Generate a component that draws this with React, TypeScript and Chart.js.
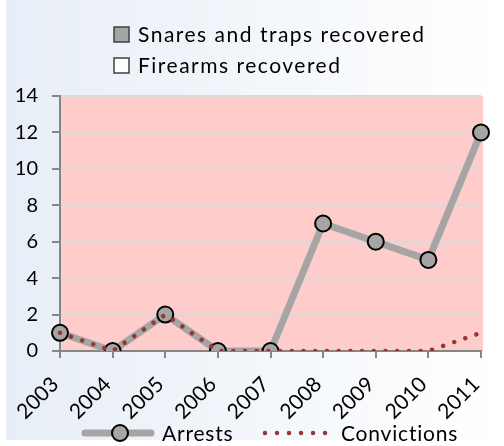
import React, { useEffect, useRef } from 'react';
import { Chart, registerables } from 'chart.js';

Chart.register(...registerables);

const years = ['2003', '2004', '2005', '2006', '2007', '2008', '2009', '2010', '2011'];
const arrests = [1, 0, 2, 0, 0, 7, 6, 5, 12];
const convictions = [1, 0, 2, 0, 0, 0, 0, 0, 1];
const snaresRecovered: (number | null)[] = [null, null, null, null, null, null, null, null, null];
const firearmsRecovered: (number | null)[] = [null, null, null, null, null, null, null, null, null];
const yTicks = [0, 2, 4, 6, 8, 10, 12, 14];

const FONT = 'Lato';

const decorPlugin = {
  id: 'decor',
  beforeDraw(chart: any) {
    const { ctx, width, height, chartArea } = chart;
    ctx.save();
    ctx.fillStyle = '#ffffff';
    ctx.fillRect(0, 0, width, height);
    const g = ctx.createLinearGradient(6, 0, width, 0);
    g.addColorStop(0, '#E8EEF7');
    g.addColorStop(0.55, '#F4F7FB');
    g.addColorStop(1, '#FFFFFF');
    ctx.fillStyle = g;
    ctx.fillRect(6, 0, width - 6, 440);
    ctx.fillStyle = '#FFCCCC';
    ctx.fillRect(chartArea.left, chartArea.top, chartArea.right - chartArea.left + 2, chartArea.bottom - chartArea.top);
    ctx.restore();
  },
  afterDraw(chart: any) {
    const { ctx } = chart;
    const ds = chart.data.datasets;
    ctx.save();
    ctx.font = `21px ${FONT}`;
    ctx.textBaseline = 'alphabetic';
    ctx.textAlign = 'left';
    (ctx as any).letterSpacing = '1.5px';
    const bars = ds.filter((d: any) => d.type === 'bar');
    bars.forEach((d: any, i: number) => {
      const y = 27 + i * 31;
      ctx.fillStyle = d.backgroundColor;
      ctx.fillRect(114, y, 15, 15);
      ctx.strokeStyle = '#404040';
      ctx.lineWidth = 1.5;
      ctx.strokeRect(114, y, 15, 15);
      ctx.fillStyle = '#000';
      ctx.fillText(d.label, 138, y + 15);
    });
    (ctx as any).letterSpacing = '0.8px';
    const ly = 433;
    const arr = ds.find((d: any) => d.label === 'Arrests');
    const con = ds.find((d: any) => d.label === 'Convictions');
    ctx.strokeStyle = arr.borderColor;
    ctx.lineWidth = 7;
    ctx.lineCap = 'round';
    ctx.beginPath();
    ctx.moveTo(85, ly);
    ctx.lineTo(151, ly);
    ctx.stroke();
    ctx.beginPath();
    ctx.arc(120, ly, 8, 0, Math.PI * 2);
    ctx.fillStyle = arr.pointBackgroundColor;
    ctx.fill();
    ctx.lineWidth = 2;
    ctx.strokeStyle = '#000';
    ctx.stroke();
    ctx.fillStyle = '#000';
    ctx.fillText(arr.label, 162, 441);
    ctx.strokeStyle = con.borderColor;
    ctx.lineWidth = 4.5;
    ctx.lineCap = 'round';
    ctx.setLineDash([0.01, 12]);
    ctx.beginPath();
    ctx.moveTo(265, ly);
    ctx.lineTo(326, ly);
    ctx.stroke();
    ctx.setLineDash([]);
    ctx.fillStyle = '#000';
    ctx.fillText(con.label, 341, 441);
    ctx.restore();
  },
};

export default function App() {
  const ref = useRef<HTMLCanvasElement>(null);
  useEffect(() => {
    if (!ref.current) return;
    const chart = new Chart(ref.current, {
      type: 'line',
      data: {
        labels: years,
        datasets: [
          {
            type: 'bar',
            label: 'Snares and traps recovered',
            data: snaresRecovered,
            backgroundColor: '#A5A5A5',
          } as any,
          {
            type: 'bar',
            label: 'Firearms recovered',
            data: firearmsRecovered,
            backgroundColor: '#FFFFFF',
          } as any,
          {
            type: 'line',
            label: 'Convictions',
            data: convictions,
            borderColor: '#953735',
            borderWidth: 4.5,
            borderDash: [0.01, 11.7],
            borderCapStyle: 'round',
            pointRadius: 0,
            tension: 0,
            order: 1,
          },
          {
            type: 'line',
            label: 'Arrests',
            data: arrests,
            borderColor: '#A5A5A5',
            borderWidth: 7,
            borderCapStyle: 'round',
            borderJoinStyle: 'round',
            pointRadius: 8,
            pointBackgroundColor: '#A5A5A5',
            pointBorderColor: '#000000',
            pointBorderWidth: 2,
            tension: 0,
            order: 2,
          },
        ],
      },
      options: {
        responsive: false,
        animation: false,
        layout: { padding: { left: 0, right: 23, top: 96, bottom: 0 } },
        plugins: { legend: { display: false }, tooltip: { enabled: false } },
        scales: {
          x: {
            type: 'category',
            offset: false,
            grid: { offset: false, drawOnChartArea: false, color: '#868686', tickLength: 7, lineWidth: 2 },
            border: { color: '#868686', width: 2 },
            ticks: {
              color: '#000',
              font: { family: FONT, size: 21 },
              minRotation: 45,
              maxRotation: 45,
              autoSkip: false,
              padding: 14,
              labelOffset: -5,
            },
            afterFit(s: any) {
              s.height = 95;
              s.paddingLeft = 0;
              s.paddingRight = 0;
            },
          },
          y: {
            min: 0,
            max: 14,
            afterBuildTicks(s: any) {
              s.ticks = yTicks.map((v) => ({ value: v }));
            },
            ticks: { color: '#000', font: { family: FONT, size: 20 }, padding: 14 },
            grid: { color: '#D9D9D9', tickColor: '#868686', tickLength: 8, lineWidth: 2 },
            border: { color: '#868686', width: 2 },
            afterFit(s: any) {
              s.width = 60;
              s.paddingTop = 0;
              s.paddingBottom = 0;
            },
          },
        },
      } as any,
      plugins: [decorPlugin],
    });
    return () => chart.destroy();
  }, []);
  return (
    <div style={{ position: 'fixed', left: 0, top: 0, width: 504, height: 446 }}>
      <canvas ref={ref} width={504} height={446} style={{ display: 'block', width: 504, height: 446 }} />
    </div>
  );
}
